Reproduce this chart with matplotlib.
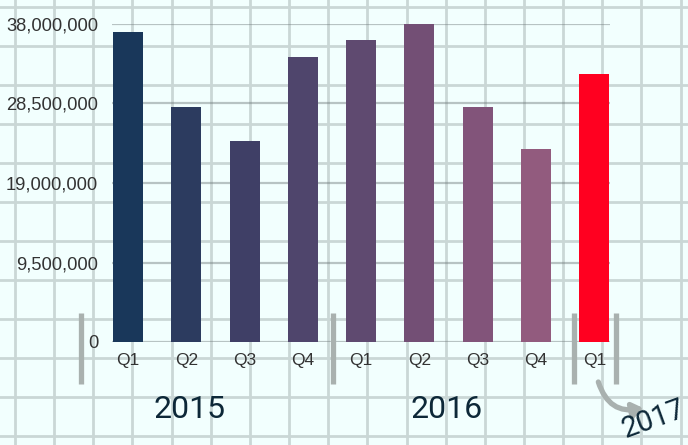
import numpy as np
import matplotlib
matplotlib.use("Agg")
import matplotlib.pyplot as plt
from matplotlib.ticker import FuncFormatter

# data
quarters = ["Q1", "Q2", "Q3", "Q4", "Q1", "Q2", "Q3", "Q4", "Q1"]
values = [37.0e6, 28.1e6, 24.0e6, 34.0e6, 36.1e6, 38.0e6, 28.1e6, 23.1e6, 32.0e6]
bar_colors = ["#19375a", "#2c3b5f", "#3f3f66", "#4f456c", "#5f4a70",
              "#734f75", "#82547a", "#925b7e", "#ff0020"]
years = ["2015", "2016"]
year_pos = [1.05, 5.46]
y_ticks = [0, 9.5e6, 19e6, 28.5e6, 38e6]

BG = "#f2fffe"
PAPER_GRID = "#cad7d6"
GRAY = "#a9b1af"

plt.rcParams["font.family"] = ["Liberation Sans", "DejaVu Sans"]

W, H = 688, 445
fig = plt.figure(figsize=(W / 100, H / 100), dpi=100)
fig.patch.set_facecolor(BG)

# graph-paper background
bg = fig.add_axes([0, 0, 1, 1], zorder=0)
bg.set_xlim(0, W)
bg.set_ylim(H, 0)
bg.set_facecolor(BG)
bg.axis("off")
for gx in np.arange(15, W, 39.15):
    bg.axvline(gx, color=PAPER_GRID, lw=2.0, zorder=0)
for gy in np.arange(7, H, 39.0):
    bg.axhline(gy, color=PAPER_GRID, lw=2.0, zorder=0)

# main chart
ax = fig.add_axes([112 / W, (H - 342) / H, (610 - 112) / W, 318 / H], zorder=1)
ax.patch.set_alpha(0)
x = np.arange(len(values))
ax.bar(x, values, width=0.515, color=bar_colors, zorder=3)
ax.set_xlim(-0.275, 8.27)
ax.set_ylim(0, 38e6)
ax.set_yticks(y_ticks)
ax.yaxis.set_major_formatter(FuncFormatter(lambda v, p: f"{int(v):,}"))
ax.set_xticks(x)
ax.set_xticklabels(quarters)
ax.tick_params(axis="y", length=0, pad=10, labelsize=13.2, labelcolor="#333333")
ax.tick_params(axis="x", length=0, pad=8, labelsize=12.5, labelcolor="#333333")
ax.yaxis.grid(True, color="#6f7b7b", alpha=0.45, lw=1.6, zorder=1)
ax.set_axisbelow(True)
for s in ax.spines.values():
    s.set_visible(False)

# year brackets
unit = 38e6 / 318
for bx in [-0.81, 3.51, 7.66, 8.38]:
    ax.plot([bx, bx], [29 * unit, -42 * unit], color=GRAY, lw=3.8,
            solid_capstyle="butt", clip_on=False, zorder=2)

for label, xp in zip(years, year_pos):
    ax.text(xp, -68 * unit, label, ha="center", va="center", fontsize=23,
            family="Roboto", color="#0d2838", clip_on=False)

ax.annotate("", xy=(8.84, -66 * unit), xytext=(8.07, -40 * unit),
            arrowprops=dict(arrowstyle="-|>,head_length=0.6,head_width=0.45",
                            connectionstyle="arc3,rad=0.45", color=GRAY, lw=3.8,
                            shrinkA=0, shrinkB=0),
            annotation_clip=False)
ax.text(9.02, -77 * unit, "2017", ha="center", va="center", fontsize=21,
        family="Roboto", color="#0d2838", rotation=20, clip_on=False)

fig.savefig("out.png", dpi=100, facecolor=BG)
